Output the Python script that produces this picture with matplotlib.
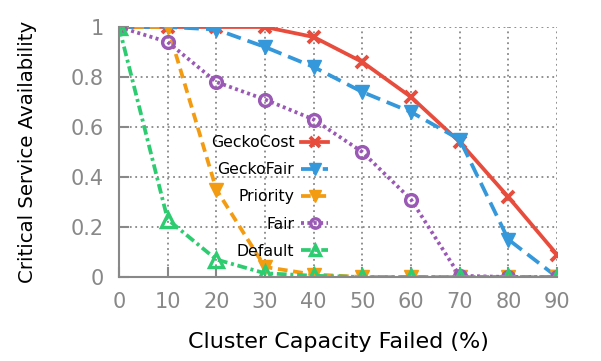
import matplotlib.pyplot as plt

failed = [0, 10, 20, 30, 40, 50, 60, 70, 80, 90]
gecko_cost = [1, 1, 1, 1, 0.96, 0.86, 0.72, 0.54, 0.32, 0.09]
gecko_fair = [1, 1, 0.99, 0.92, 0.84, 0.74, 0.66, 0.55, 0.15, 0.0]
priority = [1, 1, 0.35, 0.04, 0.01, 0, 0, 0, 0, 0]
fair = [1, 0.94, 0.78, 0.71, 0.63, 0.5, 0.31, 0.005, 0, 0]
default = [1, 0.23, 0.07, 0.015, 0.005, 0, 0, 0, 0, 0]

fig = plt.figure(figsize=(6.01, 3.61), dpi=100)
# plot area: x 119..557 px, y 27..277 px
ax = fig.add_axes([119 / 601, 1 - 277 / 361, 438 / 601, 250 / 361])

lw = 2.7
ax.plot(failed, gecko_cost, color='#e74c3c', linestyle='-', linewidth=lw,
        marker='x', markersize=9, markeredgewidth=2.8, label='GeckoCost')
ax.plot(failed, gecko_fair, color='#3498db', linestyle=(0, (3.9, 1.9)), linewidth=lw,
        marker='v', markersize=10, label='GeckoFair')
ax.plot(failed, priority, color='#f39c12', linestyle=(0, (2.6, 1.5)), linewidth=lw,
        marker='v', markersize=10, label='Priority')
ax.plot(failed, fair, color='#9b59b6', linestyle=(0, (0.8, 0.9)), linewidth=lw,
        marker='o', markersize=8.5, markerfacecolor='none', markeredgewidth=2.4, label='Fair')
ax.plot(failed, default, color='#2ecc71', linestyle=(0, (2.6, 1, 0.8, 1)), linewidth=lw,
        marker='^', markersize=9.5, markerfacecolor='none', markeredgewidth=2.4, label='Default')

ax.set_xlim(0, 90)
ax.set_ylim(0, 1)
ax.set_xticks(failed)
ax.set_yticks([0, 0.2, 0.4, 0.6, 0.8, 1])
ax.set_yticklabels(['0', '0.2', '0.4', '0.6', '0.8', '1'])
ax.grid(True, color='#888888', linestyle=(0, (1, 2)), linewidth=1.3)

for side in ['top', 'right']:
    ax.spines[side].set_visible(False)
for side in ['left', 'bottom']:
    ax.spines[side].set_color('#888888')
    ax.spines[side].set_linewidth(1.5)
ax.tick_params(direction='in', length=7, width=1.5, color='#888888',
               labelcolor='#888888', labelsize=15, pad=11)

ax.set_xlabel('Cluster Capacity Failed (%)', fontsize=16, labelpad=14)
ax.set_ylabel('Critical Service Availability', fontsize=14.2, labelpad=24)

ax.legend(loc='upper right', bbox_to_anchor=(328 / 601, 1 - 135 / 361),
          bbox_transform=fig.transFigure, frameon=False, borderpad=0, borderaxespad=0,
          markerfirst=False, fontsize=11.3, handlelength=1.7, labelspacing=0.78,
          handletextpad=0.45, markerscale=0.8)

fig.savefig('out.png', dpi=100)
